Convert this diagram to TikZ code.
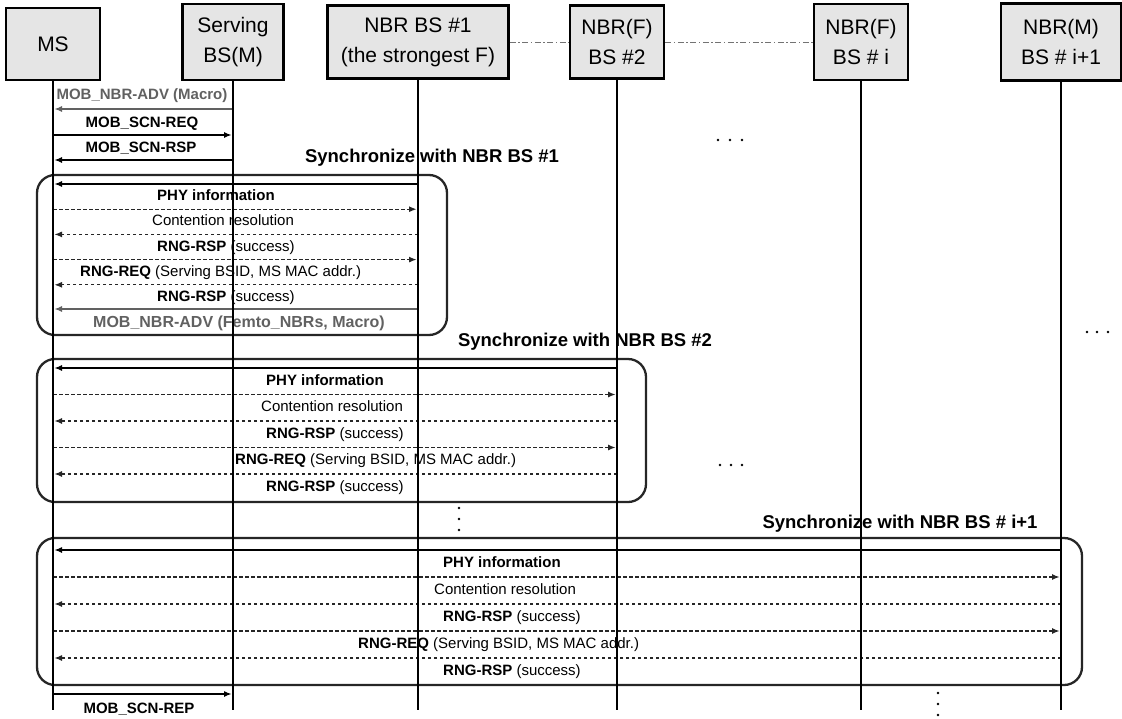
\documentclass[tikz,border=0pt]{standalone}
\usepackage{fontspec}
\setmainfont{Liberation Sans}
\usetikzlibrary{arrows.meta}
\tikzstyle{entity}=[draw,line width=2.8pt,fill=black!10,align=center,inner sep=0pt,font=\fontsize{21}{30}\selectfont]
\tikzstyle{lifeline}=[draw,line width=2.8pt]
\tikzstyle{msg}=[draw,line width=1.1pt,shorten >=1.5pt,-{Latex[length=7.5pt,width=6pt]}]
\tikzstyle{ret}=[msg,black!85,dash pattern=on 3.5pt off 2.5pt]
\tikzstyle{adv}=[color=black!62]
\tikzstyle{lbl}=[inner sep=0pt,text height=11pt,text depth=3pt,font=\fontsize{15}{18}\selectfont]
\tikzstyle{sync}=[inner sep=0pt,font=\fontsize{18.5}{21}\selectfont\bfseries]
\tikzstyle{group}=[draw=black!85,line width=2.3pt,rounded corners=18pt]
\tikzstyle{chain}=[draw=black!55,line width=0.9pt,dash pattern=on 6pt off 2.5pt on 1.5pt off 2.5pt]

\begin{document}
\begin{tikzpicture}[x=1pt,y=-1pt]
\useasboundingbox (0,0) rectangle (1122,718);
\node[entity,minimum width=94pt,minimum height=72pt] (ms) at (53,44) {MS};
\node[entity,minimum width=101pt,minimum height=76pt] (serv) at (233,42) {Serving\\BS(M)};
\node[entity,minimum width=181pt,minimum height=73pt] (nbr1) at (418,42) {NBR BS \#1\\(the strongest F)};
\node[entity,minimum width=94pt,minimum height=73pt] (nbr2) at (617,42) {NBR(F)\\BS \#2};
\node[entity,minimum width=94pt,minimum height=76pt] (nbri) at (861,42) {NBR(F)\\BS \# i};
\node[entity,minimum width=120pt,minimum height=77pt] (nbrn) at (1061,42) {NBR(M)\\BS \# i+1};
\draw[chain] (nbr1.east) -- (nbr2.west) (nbr2.east) -- (nbri.west);

\draw[msg,adv] (serv |- 0,109) -- (ms |- 0,109);
\node[lbl,adv] (adv0) at (142,95) {\bfseries MOB\_NBR-ADV (Macro)};
\draw[msg] (ms |- 0,135) -- (serv |- 0,135);
\node[lbl] (scnreq) at (142,123) {\bfseries MOB\_SCN-REQ};
\draw[msg] (serv |- 0,160) -- (ms |- 0,160);
\node[lbl] (scnrsp) at (141,148) {\bfseries MOB\_SCN-RSP};

\node[sync] (sync1) at (432,158) {Synchronize with NBR BS \#1};
\node[sync] (sync2) at (585,342) {Synchronize with NBR BS \#2};
\node[sync] (syncn) at (900,524) {Synchronize with NBR BS \# i+1};

\foreach \tg/\ya/\dy/\xa/\xb/\xc/\gtop/\gbot/\gright in
  {nbr1/184/25.2/157/152/80/175/335/447,
   nbr2/368/26.5/266/261/235/359/502/646,
   nbrn/550/27/443/434/358/538/685/1082}{
  \pgfmathsetmacro\yb{\ya+\dy}
  \pgfmathsetmacro\yc{\ya+2*\dy}
  \pgfmathsetmacro\yd{\ya+3*\dy}
  \pgfmathsetmacro\ye{\ya+4*\dy}
  \draw[group] (37,\gtop) rectangle (\gright,\gbot);
  \draw[msg] (\tg |- 0,\ya) -- (ms |- 0,\ya);
  \draw[ret] (ms |- 0,\yb) -- (\tg |- 0,\yb);
  \draw[ret] (\tg |- 0,\yc) -- (ms |- 0,\yc);
  \draw[ret] (ms |- 0,\yd) -- (\tg |- 0,\yd);
  \draw[ret] (\tg |- 0,\ye) -- (ms |- 0,\ye);
  \node[lbl,anchor=west] at (\xa,{\ya+0.5*\dy}) {\bfseries PHY information};
  \node[lbl,anchor=west] at (\xb,{\ya+1.5*\dy}) {Contention resolution};
  \node[lbl,anchor=west] at (\xa,{\ya+2.5*\dy}) {\textbf{RNG-RSP} (success)};
  \node[lbl,anchor=west] at (\xc,{\ya+3.5*\dy}) {\textbf{RNG-REQ} (Serving BSID, MS MAC addr.)};
  \node[lbl,anchor=west] at (\xa,{\ya+4.5*\dy}) {\textbf{RNG-RSP} (success)};
}
\draw[msg,adv] (nbr1 |- 0,309) -- (ms |- 0,309);
\node[lbl,adv,font=\fontsize{16}{19}\selectfont] (adv1) at (239,323) {\bfseries MOB\_NBR-ADV (Femto\_NBRs, Macro)};

\draw[msg] (ms |- 0,694) -- (serv |- 0,694);
\node[lbl] (scnrep) at (139,709) {\bfseries MOB\_SCN-REP};

\foreach \x/\y in {718/140,730/140,742/140,720/465,731/465,742/465,1087/332,1097/332,1108/332,
  459/508,459/519,459/530,938/693,938/704,938/715}
  \fill (\x,\y) circle (1.4pt);

\foreach \n in {ms,serv,nbr1,nbr2,nbri,nbrn}
  \draw[lifeline] (\n.south) -- (\n |- 0,710);
\end{tikzpicture}
\end{document}
